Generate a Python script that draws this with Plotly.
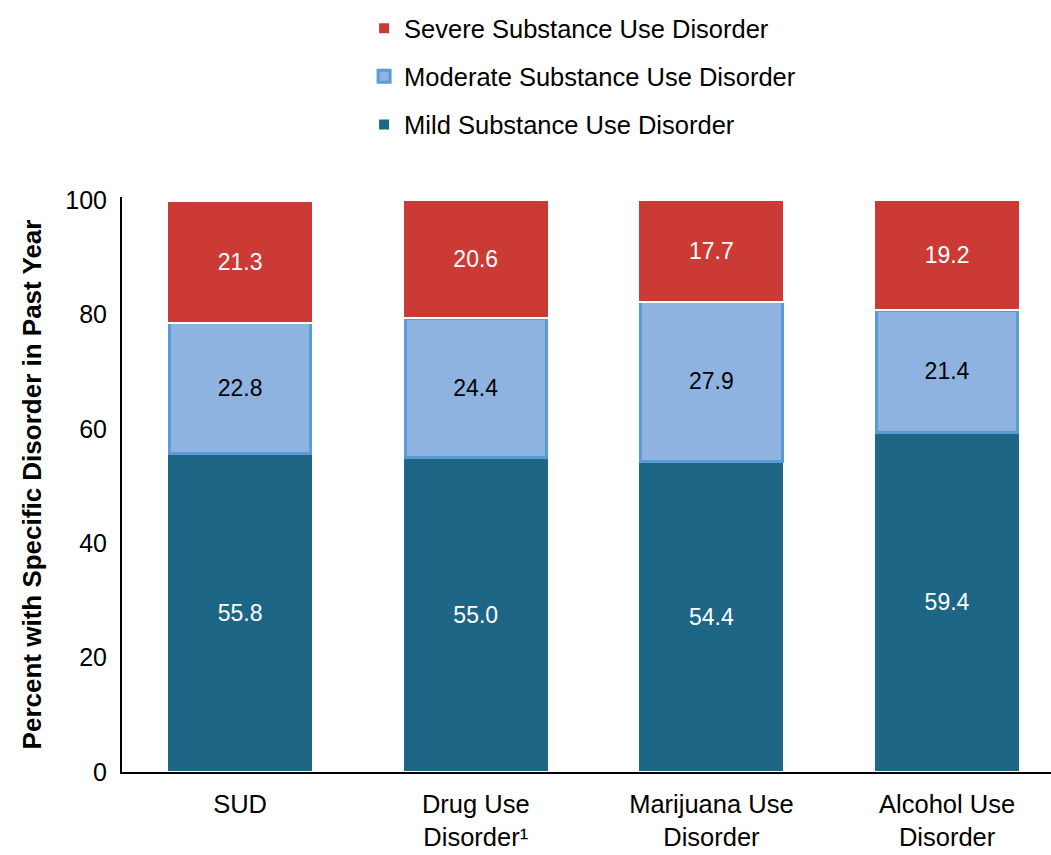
import plotly.graph_objects as go

categories = ["SUD", "Drug Use<br>Disorder¹", "Marijuana Use<br>Disorder", "Alcohol Use<br>Disorder"]
mild = [55.8, 55.0, 54.4, 59.4]
moderate = [22.8, 24.4, 27.9, 21.4]
severe = [21.3, 20.6, 17.7, 19.2]
series_names = ["Mild Substance Use Disorder", "Moderate Substance Use Disorder", "Severe Substance Use Disorder"]
y_ticks = [0, 20, 40, 60, 80, 100]

FONT = "Liberation Sans, Arial, sans-serif"
x = list(range(len(categories)))

fig = go.Figure()
fig.add_trace(go.Bar(
    x=x, y=mild, name=series_names[0], legendgroup="g3", legendrank=3,
    marker=dict(color="#1D6685", line=dict(color="white", width=2)),
    text=[f"{v:.1f}" for v in mild], textposition="inside", insidetextanchor="middle",
    textfont=dict(color="white", size=23, family=FONT), width=0.62,
))
fig.add_trace(go.Bar(
    x=x, y=moderate, name=series_names[1], legendgroup="g2", legendrank=2,
    marker=dict(color="#8FB3E0", line=dict(color="#5B9BD5", width=3)),
    text=[f"{v:.1f}" for v in moderate], textposition="inside", insidetextanchor="middle",
    textfont=dict(color="black", size=23, family=FONT), width=0.60,
))
fig.add_trace(go.Bar(
    x=x, y=severe, name=series_names[2], legendgroup="g1", legendrank=1,
    marker=dict(color="#CC3A36", line=dict(color="white", width=2)),
    text=[f"{v:.1f}" for v in severe], textposition="inside", insidetextanchor="middle",
    textfont=dict(color="white", size=23, family=FONT), width=0.62,
))

fig.update_layout(
    width=1051, height=855,
    barmode="stack",
    plot_bgcolor="white", paper_bgcolor="white",
    margin=dict(l=122, r=0, t=197, b=83, autoexpand=False),
    font=dict(family=FONT, color="black", size=25),
    uniformtext=dict(mode="show", minsize=10),
    legend=dict(
        orientation="v", x=0.2606, xanchor="left", yref="container", y=0.994, yanchor="top",
        traceorder="grouped", tracegroupgap=12,
        font=dict(size=25.5, family=FONT), bgcolor="rgba(0,0,0,0)",
        itemwidth=30,
    ),
    xaxis=dict(
        tickmode="array", tickvals=x, ticktext=categories,
        range=[-0.501, 3.441], automargin=False,
        showline=True, linecolor="black", linewidth=2,
        ticks="outside", ticklen=8, tickcolor="rgba(0,0,0,0)",
        tickfont=dict(size=25.5, family=FONT), showgrid=False, zeroline=False,
    ),
    yaxis=dict(
        range=[0, 100.6], tickvals=y_ticks, automargin=False,
        showline=True, linecolor="black", linewidth=2,
        ticks="outside", ticklen=8, tickcolor="rgba(0,0,0,0)",
        tickfont=dict(size=25, family=FONT), showgrid=False, zeroline=False,
        title=dict(text="<b>Percent with Specific Disorder in Past Year</b>",
                   font=dict(size=26, family=FONT), standoff=16),
    ),
)

fig.write_html("out.html", config={"displayModeBar": False},
               post_script="document.body.style.margin='0';")
